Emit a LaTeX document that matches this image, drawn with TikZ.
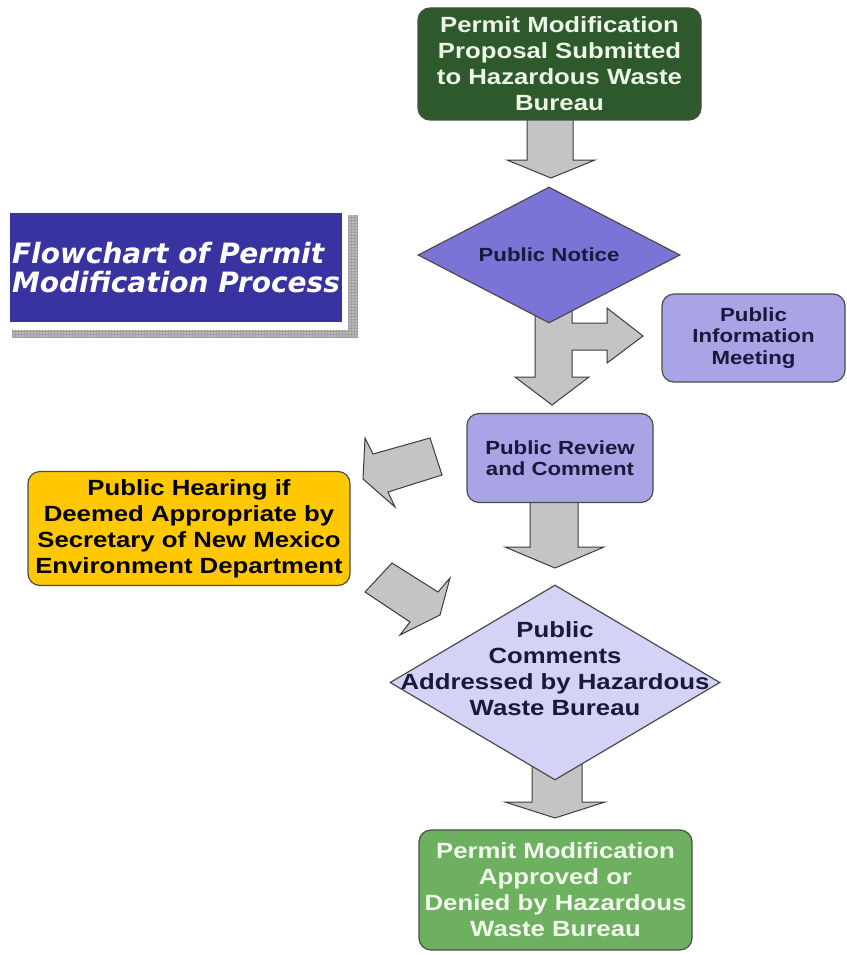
\documentclass[tikz,border=0pt]{standalone}
\usepackage{fontspec}
\setmainfont{Liberation Sans}[FakeStretch=1.17]
\newfontfamily\titlefont{DejaVu Sans}
\usetikzlibrary{shapes.geometric,patterns}
\definecolor{dkgreen}{RGB}{46,89,44}
\definecolor{greentext}{RGB}{236,245,230}
\definecolor{midgreen}{RGB}{108,176,96}
\definecolor{midgreentext}{RGB}{242,248,236}
\definecolor{notice}{RGB}{122,116,214}
\definecolor{lav}{RGB}{168,164,230}
\definecolor{lightlav}{RGB}{212,210,245}
\definecolor{navy}{RGB}{25,25,60}
\definecolor{gold}{RGB}{255,200,0}
\definecolor{titleblue}{RGB}{56,51,160}
\definecolor{edge}{RGB}{75,75,75}
\definecolor{arrowgray}{RGB}{196,196,196}
\definecolor{arrowedge}{RGB}{60,60,60}
\definecolor{shadowgray}{RGB}{185,185,185}
\begin{document}
\begin{tikzpicture}[x=1pt,y=-1pt,
  box/.style={rectangle, rounded corners=12pt, draw=edge, line width=1.2pt, align=center, inner sep=0pt},
  dmd/.style={diamond, draw=edge, line width=1.2pt, inner sep=0pt, align=center},
  blockarrow/.style={fill=arrowgray, draw=arrowedge, line width=1pt, line join=miter},
  bigtext/.style={font=\fontsize{22}{26}\selectfont\bfseries},
  smalltext/.style={font=\fontsize{19}{21.5}\selectfont\bfseries}]
\fill[white] (0,0) rectangle (846,955);
\useasboundingbox (0,0) rectangle (846,955);
% title shadow
\fill[shadowgray] (348,215) rectangle (358,337);
\fill[shadowgray] (12,330) rectangle (358,337);
\fill[pattern=grid, pattern color=gray!75] (348,215) rectangle (358,337);
\fill[pattern=grid, pattern color=gray!75] (12,330) rectangle (358,337);
% block arrows
\draw[blockarrow] (527,115) -- (527,160) -- (507,160) -- (551,178) -- (595,160) -- (573,160) -- (573,115) -- cycle;
\draw[blockarrow] (535,300) -- (535,377) -- (515,377) -- (552,405) -- (589,377) -- (572,377) -- (572,350) -- (607,350) -- (607,363) -- (643,336) -- (607,308) -- (607,323) -- (572,323) -- (572,300) -- cycle;
\draw[blockarrow] (530,498) -- (530,547) -- (505,547) -- (555,568) -- (604,547) -- (578,547) -- (578,498) -- cycle;
\draw[blockarrow] (532,760) -- (532,802) -- (505,802) -- (555,818) -- (605,802) -- (582,802) -- (582,760) -- cycle;
\draw[blockarrow] (365,438) -- (373,454) -- (430,438) -- (442,475) -- (388,492) -- (395,507) -- (363,479) -- cycle;
\draw[blockarrow] (365,592) -- (392,563) -- (438,592) -- (450,578) -- (440,615) -- (400,635) -- (410,622) -- cycle;
% nodes
\node[rectangle, fill=titleblue, minimum width=332pt, minimum height=109pt, inner sep=0pt, text=white, align=left,
  font=\titlefont\fontsize{28}{29}\selectfont\bfseries\itshape] (title) at (176,267.5) {Flowchart of Permit\\Modification Process};
\node[box, bigtext, fill=dkgreen, text=greentext, minimum width=283pt, minimum height=112pt] (submit) at (559.5,64)
  {Permit Modification\\Proposal Submitted\\to Hazardous Waste\\Bureau};
\node[dmd, aspect=2, fill=notice, text=navy, minimum width=262pt, minimum height=136pt,
  font=\fontsize{19}{21}\selectfont\bfseries] (notice) at (549,255) {Public Notice};
\node[box, smalltext, fill=lav, text=navy, minimum width=183pt, minimum height=88pt] (info) at (753.5,338)
  {Public\\Information\\Meeting};
\node[box, fill=lav, text=navy, minimum width=186pt, minimum height=89pt,
  font=\fontsize{19}{21}\selectfont\bfseries] (review) at (560,458) {Public Review\\and Comment};
\node[box, bigtext, fill=gold, text=black, minimum width=322pt, minimum height=114pt] (hearing) at (189,528.5)
  {Public Hearing if\\Deemed Appropriate by\\Secretary of New Mexico\\Environment Department};
\node[dmd, aspect=1.7, fill=lightlav, minimum width=330pt, minimum height=195pt] (addr) at (555,682.5) {};
\node[bigtext, text=navy, align=center, inner sep=0pt] (addrtext) at (555,669)
  {Public\\Comments\\Addressed by Hazardous\\Waste Bureau};
\node[box, bigtext, fill=midgreen, text=midgreentext, minimum width=273pt, minimum height=120pt] (final) at (555.5,890)
  {Permit Modification\\Approved or\\Denied by Hazardous\\Waste Bureau};
\end{tikzpicture}
\end{document}
